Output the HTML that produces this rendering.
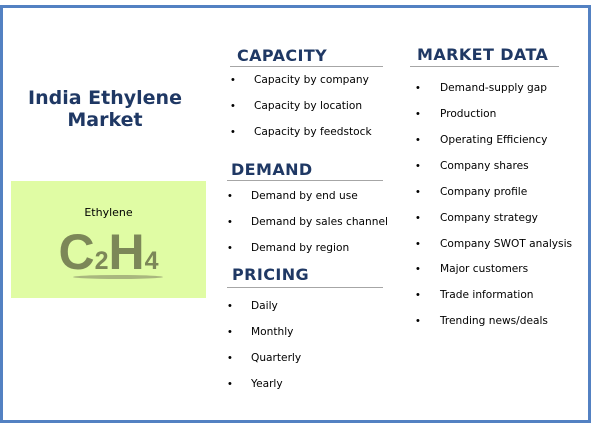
<!DOCTYPE html>
<html><head><meta charset="utf-8"><style>
body{margin:0;width:593px;height:428px;background:#fff;position:relative;overflow:hidden;font-family:"Liberation Sans",sans-serif;}
.abs{position:absolute;white-space:nowrap;}
.h{position:absolute;font-family:"DejaVu Sans","Liberation Sans",sans-serif;font-weight:bold;font-size:16px;letter-spacing:0.4px;color:#1f3864;line-height:18px;white-space:nowrap;}
.ln{position:absolute;height:1px;background:#a6a6a6;}
.it{position:absolute;font-family:"DejaVu Sans","Liberation Sans",sans-serif;font-size:10.6px;color:#000;line-height:14px;white-space:nowrap;}
.b{position:absolute;font-size:11px;line-height:14px;}
</style></head><body>
<div style="position:absolute;left:0;top:5px;width:585px;height:412px;border:3px solid #5381c2;"></div>
<div class="abs" style="left:5px;top:87px;width:200px;text-align:center;font-family:'DejaVu Sans',sans-serif;font-weight:bold;font-size:19px;line-height:22px;color:#1f3864;">India Ethylene<br>Market</div>
<div style="position:absolute;left:11px;top:181px;width:195px;height:117px;background:#e0fca4;">
<div class="abs" style="left:0;width:195px;top:25px;text-align:center;font-family:'DejaVu Sans',sans-serif;font-size:11px;">Ethylene</div>
<div class="abs" style="left:0;width:195px;top:46px;text-align:center;font-weight:bold;font-size:50px;line-height:50px;color:#7c8758;">C<span style="font-size:25px">2</span>H<span style="font-size:25px">4</span></div>
<div style="position:absolute;left:62px;top:94px;width:90px;height:4px;border-radius:50%;background:#a9b77e;"></div>
</div>
<div id="root"></div>
<script>
const sections=[
 {name:'CAPACITY',hx:237,hy:47,lx:230,lw:153,ly:66,bx:231,tx:254,ys:[80,106,132],items:['Capacity by company','Capacity by location','Capacity by feedstock']},
 {name:'DEMAND',hx:231,hy:161,lx:227,lw:156,ly:180,bx:228,tx:251,ys:[196,222,248],items:['Demand by end use','Demand by sales channel','Demand by region']},
 {name:'PRICING',hx:232,hy:266,lx:227,lw:156,ly:287,bx:228,tx:251,ys:[306,332,358,384],items:['Daily','Monthly','Quarterly','Yearly']},
 {name:'MARKET DATA',hx:417,hy:46,lx:410,lw:149,ly:66,bx:416,tx:440,ys:[88,114,140,166,192,218,244,269,295,321],items:['Demand-supply gap','Production','Operating Efficiency','Company shares','Company profile','Company strategy','Company SWOT analysis','Major customers','Trade information','Trending news/deals']}
];
const root=document.getElementById('root');
sections.forEach(s=>{
 const h=document.createElement('div');h.className='h';h.textContent=s.name;h.style.left=s.hx+'px';h.style.top=s.hy+'px';
 
 
 root.appendChild(h);
 const l=document.createElement('div');l.className='ln';l.style.left=s.lx+'px';l.style.top=s.ly+'px';l.style.width=s.lw+'px';
 
 
 root.appendChild(l);
 s.items.forEach((t,i)=>{
  const b=document.createElement('div');b.className='b';b.textContent='•';b.style.left=s.bx+'px';b.style.top=(s.ys[i]-7)+'px';
  
  
  root.appendChild(b);
  const e=document.createElement('div');e.className='it';e.textContent=t;e.style.left=s.tx+'px';e.style.top=(s.ys[i]-7)+'px';
  
  
  root.appendChild(e);
 });
});
</script>
</body></html>
